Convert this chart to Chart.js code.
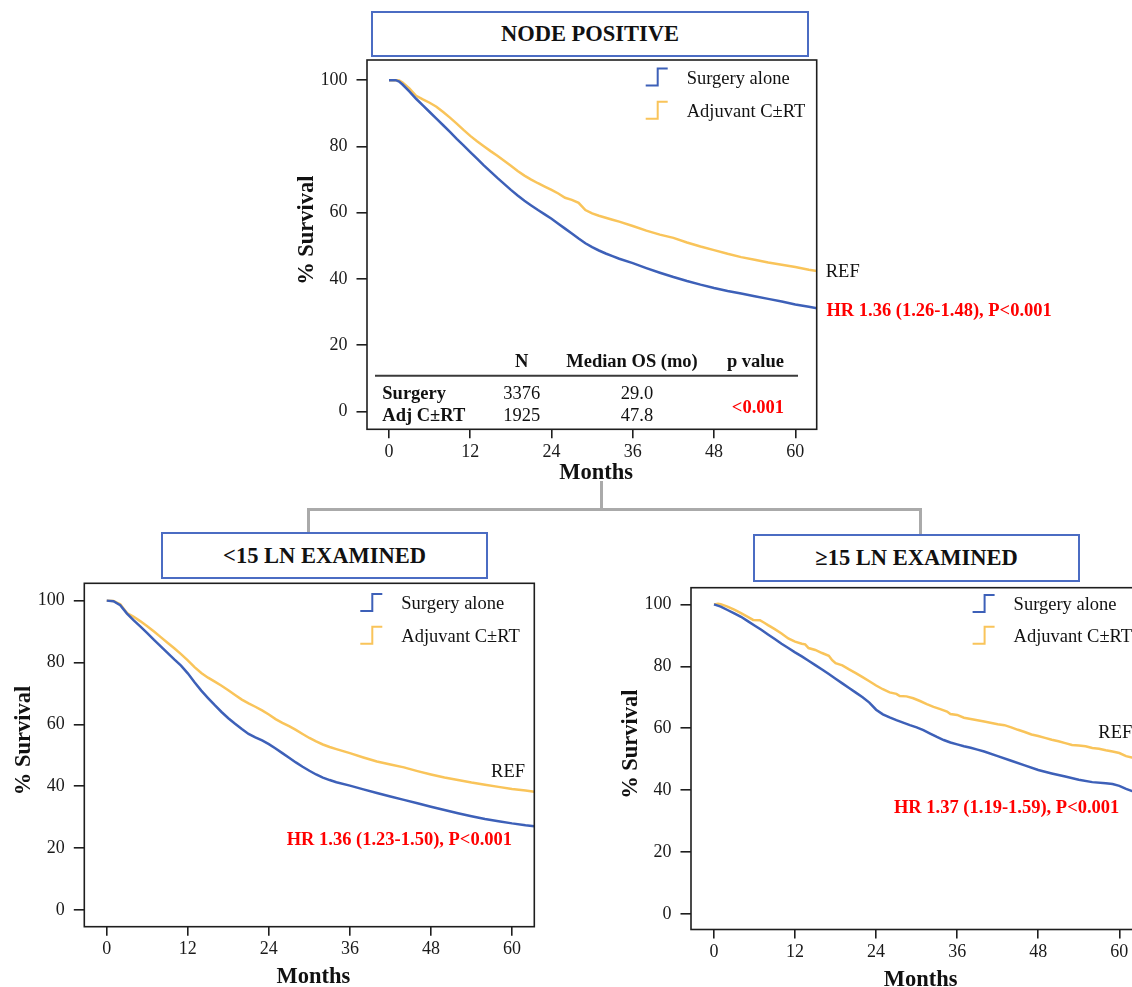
<!DOCTYPE html>
<html>
<head>
<meta charset="utf-8">
<script src="https://cdn.jsdelivr.net/npm/chart.js@4.4.1/dist/chart.umd.min.js"></script>
<style>
  html, body { margin: 0; padding: 0; background: #fff; overflow: hidden; }
  body { width: 1132px; height: 987px; position: relative; font-family: "Liberation Serif", "Times New Roman", serif; }
  .box { position: absolute; box-sizing: border-box; border: 2px solid #4b6cc3; background: #fff;
         display: flex; align-items: center; justify-content: center;
         font-weight: bold; font-size: 22.5px; color: #111; }
  .wire { position: absolute; background: #aaaaaa; }
  canvas { position: absolute; }
</style>
</head>
<body>
<div class="wire" style="left:599.5px;top:481px;width:3px;height:30px;"></div>
<div class="wire" style="left:307px;top:508px;width:615px;height:3px;"></div>
<div class="wire" style="left:307px;top:508px;width:3px;height:26px;"></div>
<div class="wire" style="left:919px;top:508px;width:3px;height:28px;"></div>

<div class="box" id="title0" style="left:371px;top:11px;width:438px;height:46px;"></div>
<div class="box" id="title1" style="left:161px;top:532px;width:327px;height:47px;"></div>
<div class="box" id="title2" style="left:753px;top:534px;width:327px;height:48px;"></div>

<canvas id="chartNodePos" width="800" height="488" style="left:280px;top:30px;"></canvas>
<canvas id="chartLt15" width="560" height="434" style="left:0px;top:553px;"></canvas>
<canvas id="chartGe15" width="560" height="430" style="left:600px;top:557px;"></canvas>

<script>
// ---- data ----
const xTicks = [0, 12, 24, 36, 48, 60];
const yTicks = [0, 20, 40, 60, 80, 100];
const seriesLabels = ["Surgery alone", "Adjuvant C±RT"];
const panelTitles = ["NODE POSITIVE", "<15 LN EXAMINED", "≥15 LN EXAMINED"];
const hrLabels = ["HR 1.36 (1.26-1.48), P<0.001", "HR 1.36 (1.23-1.50), P<0.001", "HR 1.37 (1.19-1.59), P<0.001"];
const refLabel = "REF";

// node positive
const npMonths = [0, 1, 1.5, 2, 3, 4, 5, 6, 7, 8, 9, 10, 11, 12, 13, 14, 15, 16, 17, 18, 19, 20, 21, 22, 23, 24,
  25, 26, 27, 28, 29, 30, 31, 32, 33, 34, 36, 38, 40, 42, 44, 46, 48, 50, 52, 54, 56, 58, 60, 62, 63.2];
const npSurgery = [100, 100, 99.6, 98.7, 96.6, 94.4, 92.4, 90.4, 88.4, 86.4, 84.4, 82.3, 80.3, 78.3, 76.3, 74.3,
  72.4, 70.5, 68.7, 66.9, 65.2, 63.6, 62.2, 60.8, 59.5, 58.2, 56.7, 55.2, 53.7, 52.2, 50.8, 49.6, 48.6, 47.7,
  46.9, 46.1, 44.8, 43.3, 41.9, 40.6, 39.4, 38.3, 37.3, 36.4, 35.6, 34.8, 34.0, 33.2, 32.3, 31.6, 31.2];
const npAdjuvant = [100, 100, 99.9, 99.3, 97.5, 95.3, 94.2, 93.2, 92.0, 90.4, 88.7, 86.9, 85.0, 83.2, 81.6, 80.1,
  78.6, 77.2, 75.7, 74.2, 72.6, 71.2, 70.0, 68.9, 67.9, 66.9, 65.8, 64.5, 63.9, 63.0, 60.8, 59.8, 59.1, 58.5,
  57.9, 57.3, 56.0, 54.6, 53.4, 52.4, 51.0, 49.8, 48.7, 47.6, 46.6, 45.8, 45.0, 44.3, 43.6, 42.8, 42.4];

// <15 LN examined
const ltMonths = [0, 1, 2, 3, 4, 5, 6, 7, 8, 9, 10, 11, 12, 13, 14, 15, 16, 17, 18, 19, 20, 21, 22, 23, 24, 25,
  26, 27, 28, 29, 30, 31, 32, 33, 34, 36, 38, 40, 42, 44, 46, 48, 50, 52, 54, 56, 58, 60, 62, 63.3];
const ltSurgery = [100, 99.8, 98.5, 95.8, 93.6, 91.6, 89.5, 87.3, 85.2, 83.1, 81.0, 79.0, 76.5, 73.6, 70.9, 68.5,
  66.2, 64.0, 62.0, 60.2, 58.5, 56.9, 55.8, 54.8, 53.6, 52.2, 50.7, 49.2, 47.7, 46.3, 45.0, 43.8, 42.8, 42.0,
  41.3, 40.2, 39.0, 37.8, 36.7, 35.6, 34.5, 33.4, 32.3, 31.3, 30.3, 29.4, 28.7, 28.0, 27.4, 27.1];
const ltAdjuvant = [100, 99.9, 98.8, 96.0, 94.8, 93.3, 91.7, 90.0, 88.2, 86.4, 84.6, 82.7, 80.7, 78.5, 76.6, 75.1,
  73.8, 72.5, 71.0, 69.5, 68.0, 66.8, 65.7, 64.5, 63.2, 61.7, 60.5, 59.4, 58.2, 56.9, 55.6, 54.5, 53.5, 52.7,
  52.0, 50.7, 49.3, 48.0, 47.0, 46.1, 44.9, 43.8, 42.8, 42.0, 41.2, 40.5, 39.8, 39.1, 38.6, 38.2];

// >=15 LN examined
const geMonthsSurgery = [0, 1, 2, 3, 4, 5, 6, 7, 8, 9, 10, 11, 12, 13, 14, 15, 16, 17, 18, 19, 20, 21, 22, 23, 24,
  25, 26, 27, 28, 29, 30, 31, 32, 33, 34, 35, 36, 37, 38, 39, 40, 42, 44, 46, 48, 50, 52, 54, 56, 58, 59, 60, 61, 62, 63.3];
const geSurgery = [100, 99.3, 98.2, 97.1, 96.0, 94.6, 93.2, 91.8, 90.3, 88.8, 87.3, 85.9, 84.5, 83.2, 81.8, 80.4,
  79.0, 77.5, 76.0, 74.5, 73.0, 71.5, 70.0, 68.3, 66.0, 64.5, 63.5, 62.6, 61.8, 61.0, 60.3, 59.4, 58.3, 57.2,
  56.2, 55.4, 54.8, 54.2, 53.7, 53.1, 52.5, 51.0, 49.5, 48.0, 46.5, 45.4, 44.4, 43.4, 42.6, 42.2, 42.0, 41.4,
  40.4, 39.6, 38.8];
const geMonthsAdjuvant = [0, 0.6, 1, 2, 3, 4, 5, 5.8, 6.8, 7.5, 8, 9, 10, 11, 12, 13, 13.5, 14, 15, 16, 17, 17.5,
  18, 19, 20, 21, 22, 23, 24, 25, 26, 27, 27.5, 28.5, 29.5, 30.5, 31.5, 32.5, 33.5, 34.5, 35, 36, 37, 38, 40, 42,
  43, 44, 45, 46, 47, 48, 49, 50, 51, 52, 53, 54, 55, 56, 57, 58, 59, 60, 61, 62, 63.3];
const geAdjuvant = [100, 100.2, 100.1, 99.3, 98.3, 97.2, 96.0, 95.0, 94.9, 94.0, 93.3, 92.0, 90.6, 89.0, 88.0,
  87.3, 87.1, 85.9, 85.3, 84.3, 83.4, 82.0, 81.0, 80.3, 79.0, 77.8, 76.5, 75.2, 73.8, 72.6, 71.6, 71.1, 70.4,
  70.3, 69.7, 68.8, 67.8, 66.9, 66.2, 65.4, 64.6, 64.3, 63.4, 63.0, 62.2, 61.3, 61.0, 60.3, 59.5, 58.8, 58.0,
  57.5, 56.9, 56.3, 55.8, 55.2, 54.6, 54.4, 54.2, 53.6, 53.4, 52.9, 52.5, 52.0, 51.0, 50.5, 50.3];

// summary table of the node positive panel
const tableHead = ["N", "Median OS (mo)", "p value"];
const tableGroups = ["Surgery", "Adj C±RT"];
const tableN = ["3376", "1925"];
const tableMedian = ["29.0", "47.8"];
const tableP = "<0.001";

const blue = "#3d60b8";
const gold = "#f9c45a";
const serif = "'Liberation Serif', 'Times New Roman', serif";

panelTitles.forEach((t, i) => { document.getElementById("title" + i).textContent = t; });

function toPoints(months, values) {
  return months.map((m, i) => ({ x: m, y: values[i] }));
}

function drawTable(ctx, a) {
  const L = a.left, B = a.bottom;
  ctx.fillStyle = "#111";
  ctx.font = "bold 18.5px " + serif;
  ctx.textAlign = "center";
  ctx.fillText(tableHead[0], L + 154.7, B - 62.6);
  ctx.fillText(tableHead[1], L + 265, B - 62.6);
  ctx.textAlign = "right";
  ctx.fillText(tableHead[2], L + 417, B - 62.6);

  ctx.strokeStyle = "#3a3a3a";
  ctx.lineWidth = 2;
  ctx.beginPath();
  ctx.moveTo(L + 8, B - 53.6);
  ctx.lineTo(L + 431, B - 53.6);
  ctx.stroke();

  const rowY = [B - 30, B - 8.6];
  tableGroups.forEach((g, i) => {
    ctx.font = "bold 18.5px " + serif;
    ctx.textAlign = "left";
    ctx.fillStyle = "#111";
    ctx.fillText(g, L + 15.3, rowY[i]);
    ctx.font = "18.5px " + serif;
    ctx.textAlign = "center";
    ctx.fillText(tableN[i], L + 154.7, rowY[i]);
    ctx.fillText(tableMedian[i], L + 270, rowY[i]);
  });
  ctx.font = "bold 18.5px " + serif;
  ctx.fillStyle = "#ff0000";
  ctx.textAlign = "right";
  ctx.fillText(tableP, L + 417, B - 16.6);
}

// frame, axis titles, legend and annotations
const kmDecor = {
  id: "kmDecor",
  afterDraw(chart, args, o) {
    const { ctx, chartArea: a } = chart;
    const x = chart.scales.x, y = chart.scales.y;
    ctx.save();
    ctx.strokeStyle = "#1e1e1e";
    ctx.lineWidth = 1.6;
    ctx.strokeRect(a.left, a.top, a.right - a.left, a.bottom - a.top);

    ctx.fillStyle = "#111";
    ctx.textBaseline = "alphabetic";
    ctx.font = "bold 22.5px " + serif;
    ctx.textAlign = "center";
    ctx.fillText("Months", x.getPixelForValue(30) + 4, a.bottom + o.monthsDy);
    ctx.save();
    ctx.translate(a.left - 54, (a.top + a.bottom) / 2 - 14.5);
    ctx.rotate(-Math.PI / 2);
    ctx.fillText("% Survival", 0, 0);
    ctx.restore();

    ctx.font = "18.5px " + serif;
    ctx.textAlign = "left";
    chart.data.datasets.forEach((ds, i) => {
      const tx = a.right - o.legendX;
      const by = a.top + o.legendY[i];
      ctx.strokeStyle = ds.borderColor;
      ctx.lineWidth = 2;
      ctx.beginPath();
      ctx.moveTo(tx - 41, by + 2);
      ctx.lineTo(tx - 29, by + 2);
      ctx.lineTo(tx - 29, by - 15);
      ctx.lineTo(tx - 19, by - 15);
      ctx.stroke();
      ctx.fillStyle = "#111";
      ctx.fillText(ds.label, tx, by);
    });

    ctx.fillText(refLabel, x.getPixelForValue(o.ref[0]), y.getPixelForValue(o.ref[1]));
    ctx.font = "bold 18.5px " + serif;
    ctx.fillStyle = "#ff0000";
    ctx.textAlign = o.hrAlign;
    ctx.fillText(o.hr, x.getPixelForValue(o.hrAt[0]), y.getPixelForValue(o.hrAt[1]));

    if (o.table) drawTable(ctx, a);
    ctx.restore();
  }
};

function buildPanel(id, p) {
  const tickFont = { family: serif, size: 18 };
  const grid = { drawOnChartArea: false, drawTicks: true, color: "#1e1e1e", lineWidth: 1.6 };
  new Chart(document.getElementById(id), {
    type: "line",
    data: {
      datasets: [
        { label: seriesLabels[0], data: toPoints(p.surgeryMonths, p.surgery), borderColor: blue,
          borderWidth: 2.5, pointRadius: 0, tension: 0, fill: false },
        { label: seriesLabels[1], data: toPoints(p.adjMonths, p.adjuvant), borderColor: gold,
          borderWidth: 2.5, pointRadius: 0, tension: 0, fill: false },
      ],
    },
    options: {
      responsive: false,
      animation: false,
      events: [],
      layout: { padding: { left: 0, top: p.padTop, right: p.padRight, bottom: 0 } },
      scales: {
        x: {
          type: "linear",
          min: p.xMin,
          max: p.xMax,
          afterBuildTicks: (s) => { s.ticks = xTicks.map((v) => ({ value: v })); },
          afterFit: (s) => { s.height = p.xHeight; },
          grid: { ...grid, tickLength: 9 },
          border: { display: false },
          ticks: { color: "#1a1a1a", font: tickFont, padding: 3, maxRotation: 0, autoSkip: false },
        },
        y: {
          type: "linear",
          min: p.yMin,
          max: p.yMax,
          afterBuildTicks: (s) => { s.ticks = yTicks.map((v) => ({ value: v })); },
          afterFit: (s) => { s.width = p.yWidth; },
          grid: { ...grid, tickLength: 10.5 },
          border: { display: false },
          ticks: { color: "#1a1a1a", font: tickFont, padding: 9 },
        },
      },
      plugins: {
        legend: { display: false },
        tooltip: { enabled: false },
        kmDecor: p.decor,
      },
    },
    plugins: [kmDecor],
  });
}

buildPanel("chartNodePos", {
  surgeryMonths: npMonths, surgery: npSurgery, adjMonths: npMonths, adjuvant: npAdjuvant,
  xMin: -3.25, xMax: 63.16, yMin: -5.37, yMax: 106.1,
  padTop: 30, padRight: 263.3, xHeight: 88.7, yWidth: 87,
  decor: { monthsDy: 50, legendX: 130, legendY: [23.5, 56.7], ref: [64.5, 40.7],
           hr: hrLabels[0], hrAt: [64.6, 28.8], hrAlign: "left", table: true },
});

buildPanel("chartLt15", {
  surgeryMonths: ltMonths, surgery: ltSurgery, adjMonths: ltMonths, adjuvant: ltAdjuvant,
  xMin: -3.32, xMax: 63.3, yMin: -5.4, yMax: 105.6,
  padTop: 30.3, padRight: 25.7, xHeight: 60.3, yWidth: 84.3,
  decor: { monthsDy: 56, legendX: 133, legendY: [25.7, 58.4], ref: [56.9, 42.9],
           hr: hrLabels[1], hrAt: [60, 21.0], hrAlign: "right", table: false },
});

buildPanel("chartGe15", {
  surgeryMonths: geMonthsSurgery, surgery: geSurgery, adjMonths: geMonthsAdjuvant, adjuvant: geAdjuvant,
  xMin: -3.4, xMax: 63.3, yMin: -5.0, yMax: 105.4,
  padTop: 30.7, padRight: 18.4, xHeight: 57.5, yWidth: 91,
  decor: { monthsDy: 56.5, legendX: 128, legendY: [22.3, 54], ref: [56.9, 56.7],
           hr: hrLabels[2], hrAt: [60, 32.5], hrAlign: "right", table: false },
});
</script>
</body>
</html>
